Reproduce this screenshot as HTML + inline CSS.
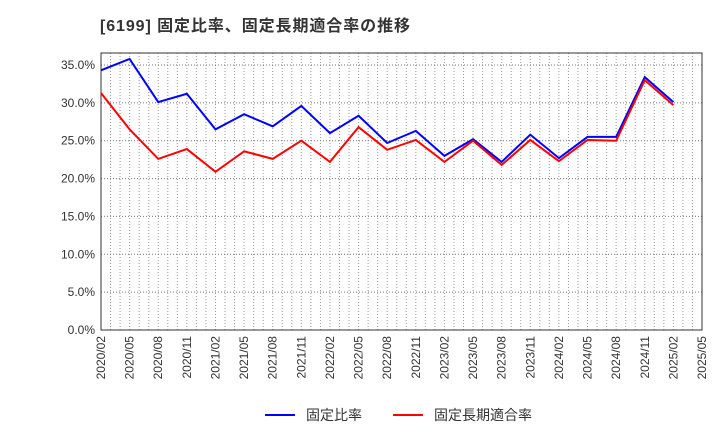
<!DOCTYPE html>
<html><head><meta charset="utf-8"><style>
body{margin:0;background:#fff;width:720px;height:440px;overflow:hidden;font-family:"Liberation Sans","Noto Sans CJK JP",sans-serif}
</style></head><body>
<svg width="720" height="440" xmlns="http://www.w3.org/2000/svg">
<text x="100" y="31" font-size="16" font-weight="bold" fill="#333" textLength="310" lengthAdjust="spacing" font-family="Liberation Sans, Noto Sans CJK JP, sans-serif">[6199]  固定比率、固定長期適合率の推移</text>
<g id="grid"></g><g id="axes"></g><g id="series"></g>
<g font-size="14" font-family="Liberation Sans, Noto Sans CJK JP, sans-serif">
<line x1="265" y1="415" x2="295" y2="415" stroke="#0000ff" stroke-width="2"/>
<text x="306" y="420" fill="#333">固定比率</text>
<line x1="393" y1="415" x2="423" y2="415" stroke="#ff0000" stroke-width="2"/>
<text x="434" y="420" fill="#333">固定長期適合率</text>
</g>
</svg>
<script>
const xLabels=["2020/02","2020/05","2020/08","2020/11","2021/02","2021/05","2021/08","2021/11","2022/02","2022/05","2022/08","2022/11","2023/02","2023/05","2023/08","2023/11","2024/02","2024/05","2024/08","2024/11","2025/02","2025/05"];
const yTicks=[0,5,10,15,20,25,30,35];
const fixedRatio=[34.3,35.8,30.1,31.2,26.5,28.5,26.9,29.6,26.0,28.3,24.7,26.3,23.0,25.2,22.2,25.8,22.7,25.5,25.5,33.4,30.1];
const longTermRatio=[31.3,26.5,22.6,23.9,20.9,23.6,22.6,25.0,22.2,26.8,23.8,25.1,22.2,25.0,21.8,25.1,22.3,25.1,25.0,33.0,29.7];
const L=101,R=702,T=53,B=330;
const NS="http://www.w3.org/2000/svg";
const xs=i=>L+i*(R-L)/(xLabels.length-1);
const ys=v=>B-v*(B-65)/35;
function mk(t,a,p){const e=document.createElementNS(NS,t);for(const k in a)e.setAttribute(k,a[k]);p.appendChild(e);return e;}
const grid=document.getElementById('grid'),axes=document.getElementById('axes'),ser=document.getElementById('series');
mk('rect',{x:L,y:T,width:R-L,height:B-T,fill:'#fff'},grid);
const months=(xLabels.length-1)*3;
for(let m=1;m<months;m++){const x=L+m*(R-L)/months;
const g=mk('line',{x1:x,y1:T,x2:x,y2:B,stroke:'#999','stroke-dasharray':'1,2','stroke-width':1},grid);

}
yTicks.forEach(v=>{const y=ys(v);
if(v>0){const g=mk('line',{x1:L,y1:y,x2:R,y2:y,stroke:'#777','stroke-dasharray':'1,2','stroke-width':1},grid);

}
const t=mk('text',{x:L-6,y:y+4,'text-anchor':'end','font-size':12,fill:'#333'},axes);t.textContent=v.toFixed(1)+'%';

});
xLabels.forEach((s,i)=>{const x=xs(i);
const t=mk('text',{x:0,y:0,'text-anchor':'end','font-size':12,fill:'#333',transform:`translate(${x+4},${B+6}) rotate(-90)`},axes);t.textContent=s;

});
const fr=mk('rect',{x:L,y:T,width:R-L,height:B-T,fill:'none',stroke:'#333','stroke-width':1},axes);


function line(d,c,n){const p=mk('polyline',{points:d.map((v,i)=>xs(i)+','+ys(v)).join(' '),fill:'none',stroke:c,'stroke-width':2},ser);

}
line(fixedRatio,'#0000ff','fixed-ratio-line');
line(longTermRatio,'#ff0000','long-term-ratio-line');
</script>
</body></html>
